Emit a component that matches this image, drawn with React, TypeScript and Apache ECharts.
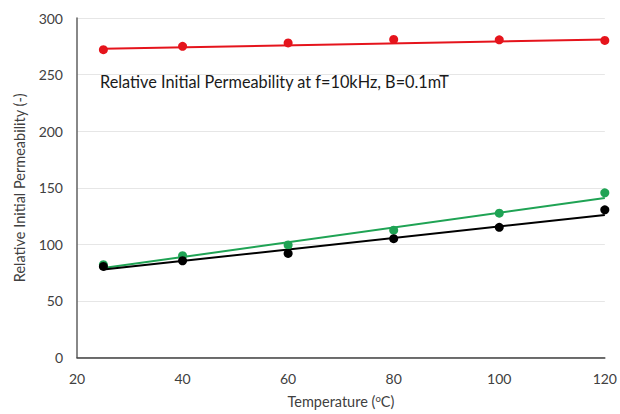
import React, { useEffect, useRef } from "react";
import * as echarts from "echarts";

const temperatures = [25, 40, 60, 80, 100, 120];
const redValues = [272, 275, 278, 281, 280.7, 280.2];
const greenValues = [82, 90, 99.5, 112.5, 127.5, 145.5];
const blackValues = [80.5, 85.5, 92, 105, 115, 130.5];

// trend line endpoints
const trendX = [25, 120];
const redTrend = [272.8, 281];
const greenTrend = [79, 141];
const blackTrend = [77.7, 126];

const xTicks = { min: 20, max: 120, interval: 20 };
const yTicks = { min: 0, max: 300, interval: 50 };

const RED = "#e5141c";
const GREEN = "#1fa354";
const BLACK = "#000000";
const FONT = "Lato, 'Open Sans', sans-serif";

function pts(xs: number[], ys: number[]) {
  return xs.map((x, i) => [x, ys[i]]);
}

export default function App() {
  const ref = useRef<HTMLDivElement>(null);
  useEffect(() => {
    document.body.style.margin = "0";
    if (!ref.current) return;
    const chart = echarts.init(ref.current, null, { renderer: "svg" });
    const trend = (name: string, ys: number[], color: string) => ({
      name,
      type: "line",
      data: pts(trendX, ys),
      showSymbol: false,
      symbol: "none",
      lineStyle: { color, width: 2 },
      z: 2,
    });
    const scatter = (name: string, ys: number[], color: string) => ({
      name,
      type: "scatter",
      data: pts(temperatures, ys),
      symbol: "circle",
      symbolSize: 9,
      itemStyle: { color, opacity: 1 },
      z: 3,
    });
    chart.setOption({
      animation: false,
      backgroundColor: "#ffffff",
      grid: { left: 77, right: 14, top: 18, bottom: 51, containLabel: false },
      xAxis: {
        type: "value",
        min: xTicks.min,
        max: xTicks.max,
        interval: xTicks.interval,
        axisLine: { show: true, lineStyle: { color: "#404040", width: 1.5 } },
        axisTick: { show: false },
        splitLine: { show: false },
        axisLabel: { color: "#404040", fontSize: 14, fontFamily: FONT, margin: 14 },
        name: "{a|Temperature (}{s|o}{a|C)}",
        nameLocation: "middle",
        nameGap: 36,
        nameTextStyle: {
          rich: {
            a: { fontSize: 14.5, color: "#404040", fontFamily: FONT },
            s: { fontSize: 9.5, color: "#404040", fontFamily: FONT, verticalAlign: "top", padding: [0, 0, 6, 0] },
          },
        },
      },
      yAxis: {
        type: "value",
        min: yTicks.min,
        max: yTicks.max,
        interval: yTicks.interval,
        axisLine: { show: true, lineStyle: { color: "#606060", width: 1.5 } },
        axisTick: { show: false },
        splitLine: { show: true, lineStyle: { color: "#e6e6e6", width: 1 } },
        axisLabel: { color: "#404040", fontSize: 14, fontFamily: FONT, margin: 14 },
        name: "Relative Initial Permeability (-)",
        nameLocation: "middle",
        nameGap: 50,
        nameTextStyle: { fontSize: 14.5, color: "#404040", fontFamily: FONT },
      },
      graphic: [
        {
          type: "text",
          left: 100,
          top: 73,
          style: {
            text: "Relative Initial Permeability at f=10kHz, B=0.1mT",
            fontSize: 16.3,
            fontFamily: FONT,
            fill: "#1a1a1a",
          },
        },
      ],
      series: [
        trend("red trend", redTrend, RED),
        trend("green trend", greenTrend, GREEN),
        trend("black trend", blackTrend, BLACK),
        scatter("red", redValues, RED),
        scatter("green", greenValues, GREEN),
        scatter("black", blackValues, BLACK),
      ],
    });
    return () => chart.dispose();
  }, []);
  return <div ref={ref} style={{ width: 620, height: 414 }} />;
}
